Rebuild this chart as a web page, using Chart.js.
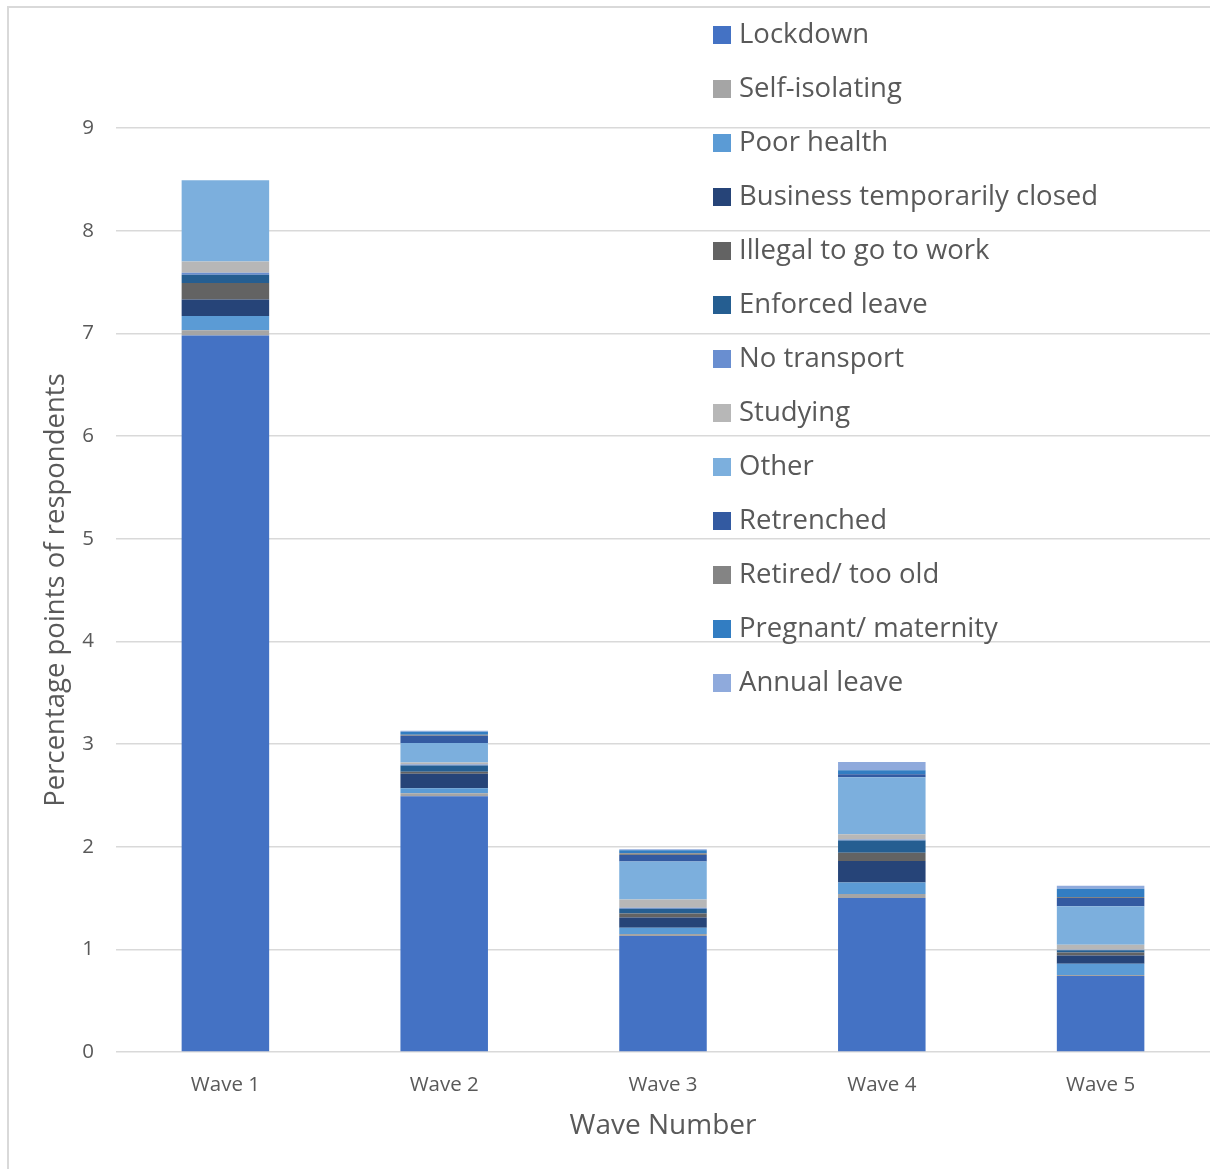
<!DOCTYPE html>
<html>
<head>
<meta charset="utf-8">
<script src="https://cdn.jsdelivr.net/npm/chart.js@4"></script>
<style>
  body { margin: 0; background: #fff; }
  #wrap { position: relative; width: 1210px; height: 1169px; overflow: hidden; }
  #frame { position: absolute; left: 7px; top: 6px; width: 1300px; height: 1300px;
           border-left: 2px solid #d9d9d9; border-top: 2px solid #d9d9d9; }
  #legend { position: absolute; left: 713px; top: 6px; margin: 0; padding: 0; list-style: none;
            font-family: "Open Sans", sans-serif; font-size: 27.5px; color: #595959; }
  #legend li { height: 54px; line-height: 54px; white-space: nowrap; }
  #legend span { display: inline-block; width: 18px; height: 18px; margin-right: 8px; vertical-align: -1px; }
</style>
</head>
<body>
<div id="wrap">
  <canvas id="chart" width="1210" height="1169"></canvas>
  <div id="frame"></div>
  <ul id="legend"></ul>
</div>
<script>
// categories and series
const waves = ['Wave 1', 'Wave 2', 'Wave 3', 'Wave 4', 'Wave 5'];
const lockdown = [6.98, 2.49, 1.13, 1.50, 0.74];
const selfIsolating = [0.05, 0.03, 0.02, 0.04, 0.01];
const poorHealth = [0.14, 0.05, 0.06, 0.11, 0.11];
const businessClosed = [0.16, 0.14, 0.10, 0.21, 0.08];
const illegalToWork = [0.16, 0.02, 0.04, 0.08, 0.03];
const enforcedLeave = [0.08, 0.06, 0.045, 0.12, 0.02];
const noTransport = [0.02, 0.01, 0.01, 0.01, 0.005];
const studying = [0.11, 0.02, 0.08, 0.05, 0.05];
const other = [0.79, 0.19, 0.37, 0.555, 0.375];
const retrenched = [0, 0.07, 0.065, 0.03, 0.08];
const retired = [0, 0.01, 0.016, 0, 0.01];
const pregnant = [0, 0.03, 0.03, 0.04, 0.08];
const annualLeave = [0, 0.01, 0.01, 0.08, 0.03];

const series = [
    ['Lockdown', lockdown, '#4472C4'],
    ['Self-isolating', selfIsolating, '#A5A5A5'],
    ['Poor health', poorHealth, '#5B9BD5'],
    ['Business temporarily closed', businessClosed, '#264478'],
    ['Illegal to go to work', illegalToWork, '#636363'],
    ['Enforced leave', enforcedLeave, '#255E91'],
    ['No transport', noTransport, '#698ED0'],
    ['Studying', studying, '#B7B7B7'],
    ['Other', other, '#7CAFDD'],
    ['Retrenched', retrenched, '#335AA1'],
    ['Retired/ too old', retired, '#848484'],
    ['Pregnant/ maternity', pregnant, '#327DC2'],
    ['Annual leave', annualLeave, '#8FAADC']
];

const font = '"Open Sans", sans-serif';
const textColor = '#595959';

// html legend
const legendEl = document.getElementById('legend');
series.forEach(function (s) {
    const li = document.createElement('li');
    const sw = document.createElement('span');
    sw.style.background = s[2];
    li.appendChild(sw);
    li.appendChild(document.createTextNode(s[0]));
    legendEl.appendChild(li);
});

new Chart(document.getElementById('chart'), {
    type: 'bar',
    data: {
        labels: waves,
        datasets: series.map(function (s) {
            return {
                label: s[0],
                data: s[1],
                backgroundColor: s[2],
                borderWidth: 0,
                barPercentage: 0.4,
                categoryPercentage: 1
            };
        })
    },
    options: {
        responsive: false,
        animation: false,
        layout: { padding: { top: 128, right: 0, bottom: 0, left: 0 } },
        plugins: { legend: { display: false }, tooltip: { enabled: false } },
        scales: {
            x: {
                stacked: true,
                grid: { display: false },
                border: { display: false },
                ticks: { color: textColor, font: { family: font, size: 20.5 }, padding: 13 },
                title: {
                    display: true, text: 'Wave Number', color: textColor,
                    font: { family: font, size: 28 }, padding: { top: 0, bottom: 26 }
                },
                afterFit: function (scale) { scale.height = 117; }
            },
            y: {
                stacked: true,
                min: 0,
                max: 9,
                ticks: { stepSize: 1, color: textColor, font: { family: font, size: 20.5 }, padding: 22 },
                grid: { color: '#d9d9d9', lineWidth: 1.5, drawTicks: false },
                border: { display: false },
                title: {
                    display: true, text: 'Percentage points of respondents', color: textColor,
                    font: { family: font, size: 27.5 }, padding: { top: 40, bottom: 0 }
                },
                afterFit: function (scale) { scale.width = 116; }
            }
        }
    }
});
</script>
</body>
</html>
